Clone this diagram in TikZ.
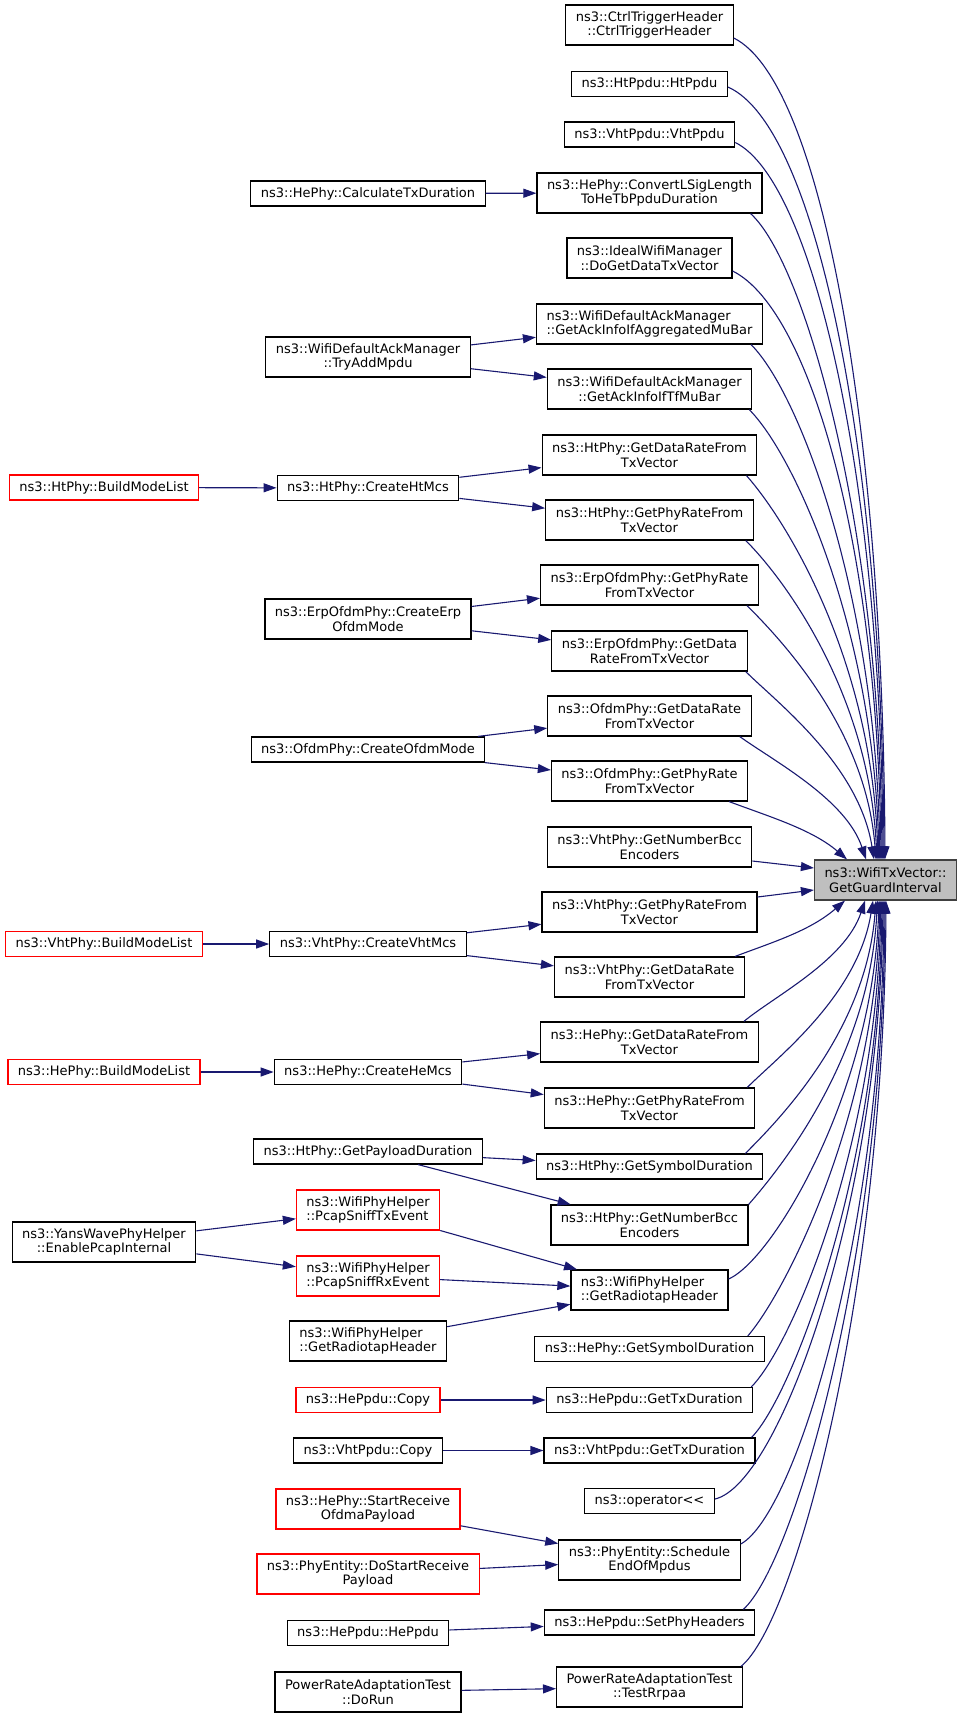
\documentclass[tikz,border=0pt]{standalone}
\usepackage{fontspec}
\setmainfont{DejaVu Sans}
\usetikzlibrary{arrows.meta}
\definecolor{edgeblue}{HTML}{191970}
\definecolor{focusgrey}{HTML}{BFBFBF}
\definecolor{focusline}{HTML}{404040}
\tikzset{
	fn/.style={draw=black, fill=white, line width=1.2pt, font=\fontsize{13}{14.5}\selectfont,
		align=center, inner xsep=10pt, inner ysep=3pt, minimum height=25pt},
	fnii/.style={fn, minimum height=40pt},
	lost/.style={draw=red},
	call/.style={draw=edgeblue, line width=1.1pt, -{Triangle[length=13pt,width=9pt]}}
}

\begin{document}
\begin{tikzpicture}[x=1pt, y=-1pt]
		%%%%% START %%%%%
		\useasboundingbox (0,0) rectangle (963,1717);
		
		\node[fnii, draw=focusline, fill=focusgrey] (gi) at (885.5,880) {ns3::WifiTxVector::\\GetGuardInterval};
		
		% callers of GetGuardInterval
		\node[fnii] (ctrl) at (649.5,25) {ns3::CtrlTriggerHeader\\::CtrlTriggerHeader};
		\node[fn] (htppdu) at (649.5,84) {ns3::HtPpdu::HtPpdu};
		\node[fn] (vhtppdu) at (649.5,134.5) {ns3::VhtPpdu::VhtPpdu};
		\node[fnii] (convert) at (649.5,193) {ns3::HePhy::ConvertLSigLength\\ToHeTbPpduDuration};
		\node[fnii] (ideal) at (649.5,258) {ns3::IdealWifiManager\\::DoGetDataTxVector};
		\node[fnii, align=left] (aggmubar) at (649.5,324) {ns3::WifiDefaultAckManager\\::GetAckInfoIfAggregatedMuBar};
		\node[fnii] (tfmubar) at (649.5,389) {ns3::WifiDefaultAckManager\\::GetAckInfoIfTfMuBar};
		\node[fnii] (htdata) at (649.5,455) {ns3::HtPhy::GetDataRateFrom\\TxVector};
		\node[fnii] (htphy) at (649.5,520) {ns3::HtPhy::GetPhyRateFrom\\TxVector};
		\node[fnii] (erpphy) at (649.5,585) {ns3::ErpOfdmPhy::GetPhyRate\\FromTxVector};
		\node[fnii] (erpdata) at (649.5,651) {ns3::ErpOfdmPhy::GetData\\RateFromTxVector};
		\node[fnii] (ofdmdata) at (649.5,716) {ns3::OfdmPhy::GetDataRate\\FromTxVector};
		\node[fnii] (ofdmphy) at (649.5,781) {ns3::OfdmPhy::GetPhyRate\\FromTxVector};
		\node[fnii] (vhtbcc) at (649.5,847) {ns3::VhtPhy::GetNumberBcc\\Encoders};
		\node[fnii] (vhtphy) at (649.5,912) {ns3::VhtPhy::GetPhyRateFrom\\TxVector};
		\node[fnii] (vhtdata) at (649.5,977) {ns3::VhtPhy::GetDataRate\\FromTxVector};
		\node[fnii] (hedata) at (649.5,1042) {ns3::HePhy::GetDataRateFrom\\TxVector};
		\node[fnii] (hephy) at (649.5,1108) {ns3::HePhy::GetPhyRateFrom\\TxVector};
		\node[fn] (htsym) at (649.5,1166.5) {ns3::HtPhy::GetSymbolDuration};
		\node[fnii] (htbcc) at (649.5,1225) {ns3::HtPhy::GetNumberBcc\\Encoders};
		\node[fnii, align=left] (radiotap) at (649.5,1290) {ns3::WifiPhyHelper\\::GetRadiotapHeader};
		\node[fn] (hesym) at (649.5,1349) {ns3::HePhy::GetSymbolDuration};
		\node[fn] (heppdutx) at (649.5,1400) {ns3::HePpdu::GetTxDuration};
		\node[fn] (vhtppdutx) at (649.5,1450.5) {ns3::VhtPpdu::GetTxDuration};
		\node[fn] (oper) at (649.5,1501) {ns3::operator<{}<};
		\node[fnii] (sched) at (649.5,1560) {ns3::PhyEntity::Schedule\\EndOfMpdus};
		\node[fn] (setphy) at (649.5,1622.5) {ns3::HePpdu::SetPhyHeaders};
		\node[fnii] (rrpaa) at (649.5,1687) {PowerRateAdaptationTest\\::TestRrpaa};
		
		% second level
		\node[fn] (calc) at (368,193.5) {ns3::HePhy::CalculateTxDuration};
		\node[fnii] (tryadd) at (368,357) {ns3::WifiDefaultAckManager\\::TryAddMpdu};
		\node[fn] (createht) at (368,488) {ns3::HtPhy::CreateHtMcs};
		\node[fnii] (createerp) at (368,619) {ns3::ErpOfdmPhy::CreateErp\\OfdmMode};
		\node[fn] (createofdm) at (368,749.5) {ns3::OfdmPhy::CreateOfdmMode};
		\node[fn] (createvht) at (368,944) {ns3::VhtPhy::CreateVhtMcs};
		\node[fn] (createhe) at (368,1072) {ns3::HePhy::CreateHeMcs};
		\node[fn] (payload) at (368,1151.5) {ns3::HtPhy::GetPayloadDuration};
		\node[fnii, lost, align=left] (snifftx) at (368,1210) {ns3::WifiPhyHelper\\::PcapSniffTxEvent};
		\node[fnii, lost, align=left] (sniffrx) at (368,1276) {ns3::WifiPhyHelper\\::PcapSniffRxEvent};
		\node[fnii, align=left] (radiotapl) at (368,1341) {ns3::WifiPhyHelper\\::GetRadiotapHeader};
		\node[fn, lost] (heppducopy) at (368,1400) {ns3::HePpdu::Copy};
		\node[fn] (vhtppducopy) at (368,1450.5) {ns3::VhtPpdu::Copy};
		\node[fnii, lost] (startofdma) at (368,1509) {ns3::HePhy::StartReceive\\OfdmaPayload};
		\node[fnii, lost] (dostart) at (368,1574) {ns3::PhyEntity::DoStartReceive\\Payload};
		\node[fn] (heppdu) at (368,1633) {ns3::HePpdu::HePpdu};
		\node[fnii] (dorun) at (368,1692) {PowerRateAdaptationTest\\::DoRun};
		
		% third level
		\node[fn, lost] (htbuild) at (104,487.5) {ns3::HtPhy::BuildModeList};
		\node[fn, lost] (vhtbuild) at (104,944) {ns3::VhtPhy::BuildModeList};
		\node[fn, lost] (hebuild) at (104,1072) {ns3::HePhy::BuildModeList};
		\node[fnii] (yans) at (104,1242) {ns3::YansWavePhyHelper\\::EnablePcapInternal};
		
		% short calls
		\draw[call] (calc) -- (convert);
		\draw[call] (tryadd) -- (aggmubar);
		\draw[call] (tryadd) -- (tfmubar);
		\draw[call] (htbuild) -- (createht);
		\draw[call] (createht) -- (htdata);
		\draw[call] (createht) -- (htphy);
		\draw[call] (createerp) -- (erpphy);
		\draw[call] (createerp) -- (erpdata);
		\draw[call] (createofdm) -- (ofdmdata);
		\draw[call] (createofdm) -- (ofdmphy);
		\draw[call] (vhtbuild) -- (createvht);
		\draw[call] (createvht) -- (vhtphy);
		\draw[call] (createvht) -- (vhtdata);
		\draw[call] (hebuild) -- (createhe);
		\draw[call] (createhe) -- (hedata);
		\draw[call] (createhe) -- (hephy);
		\draw[call] (payload) -- (htsym);
		\draw[call] (payload) -- (htbcc);
		\draw[call] (yans) -- (snifftx);
		\draw[call] (yans) -- (sniffrx);
		\draw[call] (snifftx) -- (radiotap);
		\draw[call] (sniffrx) -- (radiotap);
		\draw[call] (radiotapl) -- (radiotap);
		\draw[call] (heppducopy) -- (heppdutx);
		\draw[call] (vhtppducopy) -- (vhtppdutx);
		\draw[call] (startofdma) -- (sched);
		\draw[call] (dostart) -- (sched);
		\draw[call] (heppdu) -- (setphy);
		\draw[call] (dorun) -- (rrpaa);
		
		% into GetGuardInterval from above
		\draw[call] ([yshift=-13pt]ctrl.east) .. controls +(90,45) and +(-2,-420) .. ([xshift=-0.5pt]gi.north);
		\draw[call] ([yshift=-3pt]htppdu.east) .. controls +(90,40) and +(-2,-400) .. ([xshift=-1.5pt]gi.north);
		\draw[call] ([yshift=-8pt]vhtppdu.east) .. controls +(80,40) and +(-2,-370) .. ([xshift=-2.5pt]gi.north);
		\draw[call] ([xshift=-12pt]convert.south east) .. controls +(55,50) and +(-2,-330) .. ([xshift=-3.5pt]gi.north);
		\draw[call] ([yshift=-13pt]ideal.east) .. controls +(80,40) and +(-3,-300) .. ([xshift=-4.5pt]gi.north);
		\draw[call] ([xshift=-12pt]aggmubar.south east) .. controls +(50,50) and +(-4,-260) .. ([xshift=-5.5pt]gi.north);
		\draw[call] ([xshift=-3pt]tfmubar.south east) .. controls +(45,45) and +(-5,-230) .. ([xshift=-6.5pt]gi.north);
		\draw[call] ([xshift=-11pt]htdata.south east) .. controls +(40,45) and +(-6,-200) .. ([xshift=-7.5pt]gi.north);
		\draw[call] ([xshift=-8pt]htphy.south east) .. controls +(40,40) and +(-8,-165) .. ([xshift=-8.5pt]gi.north);
		\draw[call] ([xshift=-12pt]erpphy.south east) .. controls +(35,35) and +(-10,-130) .. ([xshift=-9.5pt]gi.north);
		\draw[call] ([xshift=-2pt]erpdata.south east) .. controls +(30,30) and +(-15,-95) .. ([xshift=-11.5pt]gi.north);
		\draw[call] ([xshift=-12pt]ofdmdata.south east) .. controls +(35,25) and +(-20,-60) .. ([xshift=-19.5pt]gi.north);
		\draw[call] ([xshift=-19pt]ofdmphy.south east) .. controls +(40,15) and +(-35,-30) .. ([xshift=-38.5pt]gi.north);
		
		% from the side
		\draw[call] ([yshift=-14pt]vhtbcc.east) -- ([yshift=12pt]gi.west);
		\draw[call] ([yshift=15pt]vhtphy.east) -- ([yshift=-10pt]gi.west);
		
		% into GetGuardInterval from below
		\draw[call] ([xshift=-10pt]vhtdata.north east) .. controls +(40,-15) and +(-35,30) .. ([xshift=-40.5pt]gi.south);
		\draw[call] ([xshift=-15pt]hedata.north east) .. controls +(30,-25) and +(-20,60) .. ([xshift=-20.5pt]gi.south);
		\draw[call] ([xshift=-8pt]hephy.north east) .. controls +(30,-30) and +(-15,95) .. ([xshift=-12.5pt]gi.south);
		\draw[call] ([xshift=-18pt]htsym.north east) .. controls +(35,-35) and +(-10,130) .. ([xshift=-9.5pt]gi.south);
		\draw[call] (htbcc.north east) .. controls +(35,-40) and +(-8,155) .. ([xshift=-8pt]gi.south);
		\draw[call] ([yshift=11pt]radiotap.east) .. controls +(45,-20) and +(-6,190) .. ([xshift=-6.5pt]gi.south);
		\draw[call] ([xshift=-17pt]hesym.north east) .. controls +(35,-40) and +(-5,220) .. ([xshift=-5.5pt]gi.south);
		\draw[call] ([xshift=-2pt]heppdutx.north east) .. controls +(40,-40) and +(-4,245) .. ([xshift=-4.5pt]gi.south);
		\draw[call] ([xshift=-4pt]vhtppdutx.north east) .. controls +(40,-40) and +(-3,270) .. ([xshift=-3.5pt]gi.south);
		\draw[call] ([yshift=2pt]oper.east) .. controls +(65,-15) and +(-3,300) .. ([xshift=-2.5pt]gi.south);
		\draw[call] ([yshift=16pt]sched.east) .. controls +(55,-30) and +(-2,330) .. ([xshift=-1.5pt]gi.south);
		\draw[call] ([xshift=-12pt]setphy.north east) .. controls +(50,-45) and +(-2,360) .. ([xshift=-0.5pt]gi.south);
		\draw[call] ([xshift=-2pt]rrpaa.north east) .. controls +(55,-45) and +(-2,390) .. ([xshift=0.5pt]gi.south);
		%%%%% END %%%%%
	\end{tikzpicture}
\end{document}
